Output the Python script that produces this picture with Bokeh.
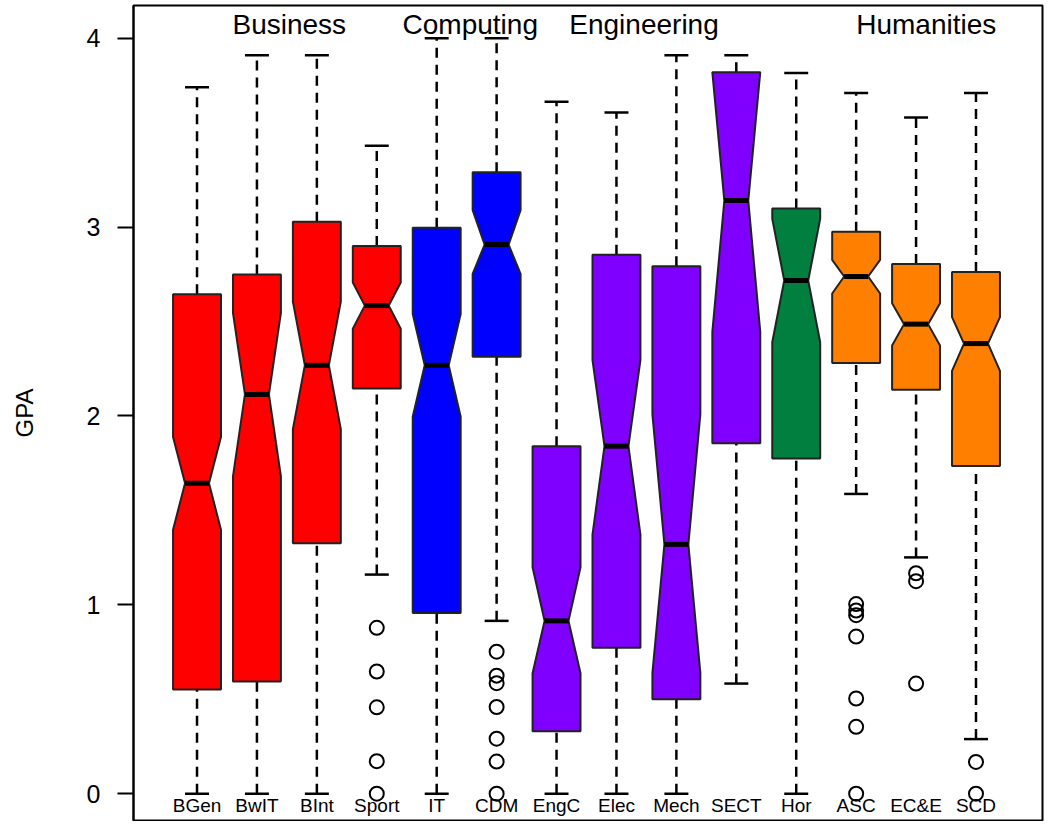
from bokeh.plotting import figure
from bokeh.models import Range1d, FixedTicker, ColumnDataSource
from bokeh.core.properties import value
from bokeh.embed import file_html
from bokeh.resources import INLINE

# ---- data ----
programs = ["BGen", "BwIT", "BInt", "Sport", "IT", "CDM", "EngC", "Elec", "Mech",
            "SECT", "Hor", "ASC", "EC&E", "SCD"]
lower_whisker = [0.0, 0.0, 0.0, 1.16, 0.0, 0.915, 0.0, 0.0, 0.0, 0.583, 0.0, 1.587, 1.251, 0.289]
q1 = [0.552, 0.594, 1.326, 2.145, 0.957, 2.313, 0.331, 0.773, 0.50, 1.855, 1.775, 2.28, 2.138, 1.735]
median = [1.643, 2.114, 2.268, 2.584, 2.268, 2.907, 0.915, 1.84, 1.32, 3.14, 2.717, 2.738, 2.486, 2.383]
q3 = [2.644, 2.749, 3.028, 2.90, 2.996, 3.29, 1.84, 2.853, 2.793, 3.82, 3.098, 2.975, 2.804, 2.762]
upper_whisker = [3.74, 3.91, 3.91, 3.43, 4.0, 4.0, 3.664, 3.606, 3.91, 3.91, 3.816, 3.71, 3.58, 3.71]
notch_low = [1.398, 1.68, 1.93, 2.462, 1.996, 2.752, 0.638, 1.372, 0.64, 2.445, 2.39, 2.648, 2.373, 2.239]
notch_high = [1.889, 2.546, 2.605, 2.706, 2.539, 3.09, 1.198, 2.295, 2.008, 3.82, 3.043, 2.826, 2.597, 2.523]
box_colors = ["#FF0000"] * 4 + ["#0000FF"] * 2 + ["#7F00FF"] * 4 + ["#007F3F"] + ["#FF7F00"] * 3

outlier_program = ["Sport"] * 5 + ["CDM"] * 7 + ["ASC"] * 7 + ["EC&E"] * 3 + ["SCD"] * 2
outlier_value = [0.878, 0.647, 0.457, 0.172, 0.0,
                 0.752, 0.625, 0.585, 0.459, 0.291, 0.170, 0.0,
                 1.004, 0.97, 0.945, 0.832, 0.504, 0.354, 0.0,
                 1.167, 1.125, 0.583,
                 0.168, 0.0]

groups = ["Business", "Computing", "Engineering", "Humanities"]
yticks = [0, 1, 2, 3, 4]

# ---- layout / style constants ----
FONT = "Liberation Sans"
BOX_W = 0.8
group_label_x = [2.54, 5.56, 8.46, 13.17]

pos = list(range(1, len(programs) + 1))
pos_of = {c: i + 1 for i, c in enumerate(programs)}

p = figure(width=1044, height=821, output_backend="svg", toolbar_location=None,
           x_range=Range1d(-0.06, 15.11), y_range=Range1d(-0.142, 4.173),
           min_border_left=133, min_border_right=2, min_border_top=5, min_border_bottom=1)

p.xaxis.visible = False
p.xgrid.visible = False
p.ygrid.visible = False
p.outline_line_color = "black"
p.outline_line_width = 2
p.outline_line_alpha = 1.0
p.background_fill_color = "white"
p.border_fill_color = "white"

ya = p.yaxis[0]
ya.ticker = FixedTicker(ticks=yticks)
ya.minor_tick_line_color = None
ya.axis_line_color = "black"
ya.axis_line_width = 2
ya.major_tick_in = 0
ya.major_tick_out = 16
ya.major_tick_line_width = 2
ya.major_label_standoff = 17
ya.major_label_text_font = FONT
ya.major_label_text_font_size = "25px"
ya.major_label_text_color = "black"
ya.axis_label = "GPA"
ya.axis_label_text_font = FONT
ya.axis_label_text_font_style = "normal"
ya.axis_label_text_font_size = "24px"
ya.axis_label_text_color = "black"
ya.axis_label_standoff = 46

# whiskers (dashed)
p.segment(x0=pos, y0=q3, x1=pos, y1=upper_whisker, line_color="black",
          line_width=2.5, line_dash="10 7")
p.segment(x0=pos, y0=lower_whisker, x1=pos, y1=q1, line_color="black",
          line_width=2.5, line_dash="10 7")
# staples
half_cap = BOX_W / 4
p.segment(x0=[x - half_cap for x in pos], y0=upper_whisker,
          x1=[x + half_cap for x in pos], y1=upper_whisker, line_color="black", line_width=2.5)
p.segment(x0=[x - half_cap for x in pos], y0=lower_whisker,
          x1=[x + half_cap for x in pos], y1=lower_whisker, line_color="black", line_width=2.5)

# notched boxes
xs, ys = [], []
hw = BOX_W / 2
nw = BOX_W / 4
for i, x in enumerate(pos):
    xs.append([x - hw, x + hw, x + hw, x + nw, x + hw, x + hw,
               x - hw, x - hw, x - nw, x - hw])
    ys.append([q1[i], q1[i], notch_low[i], median[i], notch_high[i], q3[i],
               q3[i], notch_high[i], median[i], notch_low[i]])
box_src = ColumnDataSource(dict(xs=xs, ys=ys, color=box_colors))
p.patches(xs="xs", ys="ys", fill_color="color", line_color="#222222",
          line_width=2, source=box_src)

# medians
p.segment(x0=[x - nw for x in pos], y0=median, x1=[x + nw for x in pos], y1=median,
          line_color="black", line_width=5)

# outliers
p.scatter(x=[pos_of[c] for c in outlier_program], y=outlier_value, marker="circle",
          size=14, fill_color=None, line_color="black", line_width=2)

# category labels
p.text(x=pos, y=[-0.06] * len(pos), text=programs, text_font=value(FONT),
       text_font_size="19px", text_align="center", text_baseline="alphabetic",
       text_color="black")

# group labels
p.text(x=group_label_x, y=[4.07] * len(groups), text=groups, text_font=value(FONT),
       text_font_size="28px", text_align="center", text_baseline="alphabetic",
       text_color="black")

open("out.html", "w").write(file_html(p, INLINE))
